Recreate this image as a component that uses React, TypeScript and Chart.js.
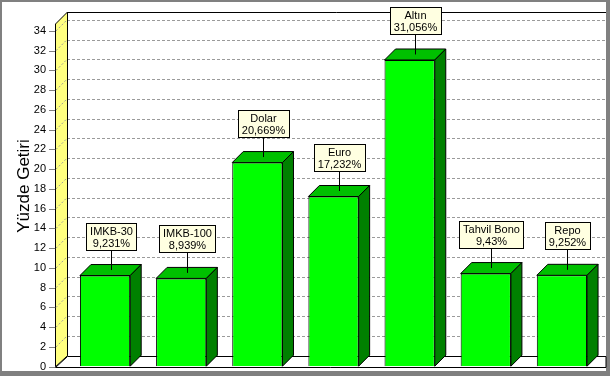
import React, { useEffect, useRef } from 'react';
import { Chart, registerables } from 'chart.js';

Chart.register(...registerables);

const categories = ['IMKB-30', 'IMKB-100', 'Dolar', 'Euro', 'Altın', 'Tahvil Bono', 'Repo'];
const values = [9.231, 8.939, 20.669, 17.232, 31.056, 9.43, 9.252];
const yTicks = [0, 2, 4, 6, 8, 10, 12, 14, 16, 18, 20, 22, 24, 26, 28, 30, 32, 34];
const yTitle = 'Yüzde Getiri';
const yMax = 34.7;

const DX = 11;
const DY = 11;
const WDX = 12;
const WDY = 11;
const FONT = '11px Arial, "Liberation Sans", sans-serif';

const fmt = (v: number) => String(v).replace('.', ',') + '%';

const threeD = {
  id: 'threeD',
  beforeDraw(chart: any) {
    const { ctx, chartArea: a, scales } = chart;
    const ys = scales.y;
    const W = chart.width;
    const H = chart.height;
    ctx.save();
    ctx.fillStyle = '#808080';
    ctx.fillRect(0, 0, W, H);
    ctx.fillStyle = '#ffffff';
    ctx.fillRect(2, 2, W - 6, H - 7);

    const frontL = a.left - WDX;
    const backL = a.left;
    const backR = W - 4;
    const bottom = a.bottom;
    const top = a.top;
    const backTop = top - WDY - 1;

    // back wall grid lines
    ctx.lineWidth = 1;
    ctx.strokeStyle = '#9a9a9a';
    ctx.setLineDash([3, 2]);
    for (const t of ys.ticks) {
      if (t.value <= 0) continue;
      const py = Math.round(ys.getPixelForValue(t.value) - WDY) + 0.5;
      ctx.beginPath();
      ctx.moveTo(backL, py);
      ctx.lineTo(backR, py);
      ctx.stroke();
    }
    ctx.setLineDash([]);

    // left (yellow) wall
    ctx.beginPath();
    ctx.moveTo(frontL + 0.5, top);
    ctx.lineTo(backL + 0.5, backTop);
    ctx.lineTo(backL + 0.5, bottom - WDY);
    ctx.lineTo(frontL + 0.5, bottom);
    ctx.closePath();
    ctx.fillStyle = '#ffff80';
    ctx.fill();
    ctx.strokeStyle = '#000';
    ctx.stroke();

    // diagonal grid on wall
    ctx.strokeStyle = '#9a9a9a';
    ctx.setLineDash([2, 2]);
    for (const t of ys.ticks) {
      if (t.value <= 0) continue;
      const py = ys.getPixelForValue(t.value);
      ctx.beginPath();
      ctx.moveTo(frontL + 1, py);
      ctx.lineTo(backL - 1, py - WDY + 1);
      ctx.stroke();
    }
    ctx.setLineDash([]);

    // tick marks
    ctx.strokeStyle = '#808080';
    for (const t of ys.ticks) {
      const py = Math.round(ys.getPixelForValue(t.value)) + 0.5;
      ctx.beginPath();
      ctx.moveTo(frontL - 6, py);
      ctx.lineTo(frontL, py);
      ctx.stroke();
    }

    // floor
    ctx.beginPath();
    ctx.moveTo(frontL + 0.5, Math.round(bottom) + 0.5);
    ctx.lineTo(backL + 0.5, Math.round(bottom - WDY) + 0.5);
    ctx.lineTo(backR, Math.round(bottom - WDY) + 0.5);
    ctx.lineTo(backR, Math.round(bottom) + 0.5);
    ctx.closePath();
    ctx.fillStyle = '#ffffff';
    ctx.fill();
    ctx.strokeStyle = '#000';
    ctx.stroke();

    // back wall top / left edges
    ctx.beginPath();
    ctx.moveTo(backL + 0.5, bottom - WDY);
    ctx.lineTo(backL + 0.5, backTop + 0.5);
    ctx.lineTo(backR, backTop + 0.5);
    ctx.stroke();
    ctx.restore();
  },
  afterDatasetsDraw(chart: any) {
    const { ctx } = chart;
    const meta = chart.getDatasetMeta(0);
    ctx.save();
    ctx.lineWidth = 1;
    ctx.strokeStyle = '#000';
    meta.data.forEach((el: any) => {
      const x0 = el.x - el.width / 2;
      const x1 = el.x + el.width / 2;
      const yt = el.y;
      const yb = el.base;
      // top face
      ctx.beginPath();
      ctx.moveTo(x0, yt);
      ctx.lineTo(x0 + DX, yt - DY);
      ctx.lineTo(x1 + DX, yt - DY);
      ctx.lineTo(x1, yt);
      ctx.closePath();
      ctx.fillStyle = '#00c000';
      ctx.fill();
      ctx.stroke();
      // side face
      ctx.beginPath();
      ctx.moveTo(x1, yt);
      ctx.lineTo(x1 + DX, yt - DY);
      ctx.lineTo(x1 + DX, yb - DY);
      ctx.lineTo(x1, yb);
      ctx.closePath();
      ctx.fillStyle = '#008000';
      ctx.fill();
      ctx.stroke();
    });

    // callouts
    ctx.font = FONT;
    meta.data.forEach((el: any, i: number) => {
      const l1 = categories[i];
      const l2 = fmt(values[i]);
      const w = Math.ceil(Math.max(ctx.measureText(l1).width, ctx.measureText(l2).width)) + 8;
      const lx = Math.round(el.x + DX / 2) + 0.5;
      const boxBottom = Math.round(el.y - DY - 14);
      const boxTop = boxBottom - 28;
      const bx = Math.round(lx - w / 2);
      ctx.strokeStyle = '#000';
      ctx.beginPath();
      ctx.moveTo(lx, boxBottom);
      ctx.lineTo(lx, el.y - DY / 2);
      ctx.stroke();
      ctx.fillStyle = '#ffffe1';
      ctx.fillRect(bx, boxTop, w, 28);
      ctx.strokeRect(bx + 0.5, boxTop + 0.5, w - 1, 27);
      ctx.fillStyle = '#000';
      ctx.textAlign = 'center';
      ctx.textBaseline = 'middle';
      ctx.fillText(l1, lx, boxTop + 8.5);
      ctx.fillText(l2, lx, boxTop + 20.5);
    });
    ctx.restore();
  },
  afterDraw(chart: any) {
    const { ctx } = chart;
    ctx.save();
    ctx.translate(24, 186);
    ctx.rotate(-Math.PI / 2);
    ctx.font = '17px Arial, "Liberation Sans", sans-serif';
    ctx.fillStyle = '#000';
    ctx.textAlign = 'center';
    ctx.textBaseline = 'middle';
    ctx.fillText(yTitle, 0, 0);
    ctx.restore();
  },
};

export default function App() {
  const ref = useRef<HTMLCanvasElement | null>(null);
  useEffect(() => {
    document.body.style.margin = '0';
    const canvas = ref.current;
    if (!canvas) return;
    const chart = new Chart(canvas, {
      type: 'bar',
      data: {
        labels: categories,
        datasets: [
          {
            data: values,
            backgroundColor: '#00ff00',
            borderColor: '#000000',
            borderWidth: 1,
            barPercentage: 0.66,
            categoryPercentage: 1,
          },
        ],
      },
      options: {
        responsive: false,
        animation: false,
        devicePixelRatio: 1,
        layout: { padding: { left: 0, right: 10, top: 24, bottom: 9.3 } },
        plugins: { legend: { display: false }, tooltip: { enabled: false } },
        scales: {
          x: { display: false },
          y: {
            min: 0,
            max: yMax,
            afterBuildTicks: (s: any) => {
              s.ticks = yTicks.map((v) => ({ value: v }));
            },
            afterFit: (s: any) => {
              s.width = 67;
            },
            grid: {
              display: true,
              drawOnChartArea: false,
              drawTicks: true,
              tickLength: 19,
              color: 'rgba(0,0,0,0)',
            },
            border: { display: false },
            ticks: {
              padding: 2,
              color: '#000',
              font: { family: 'Arial, "Liberation Sans", sans-serif', size: 11 },
            },
          },
        },
      },
      plugins: [threeD],
    } as any);
    return () => chart.destroy();
  }, []);
  return <canvas ref={ref} width={610} height={376} style={{ display: 'block' }} />;
}
